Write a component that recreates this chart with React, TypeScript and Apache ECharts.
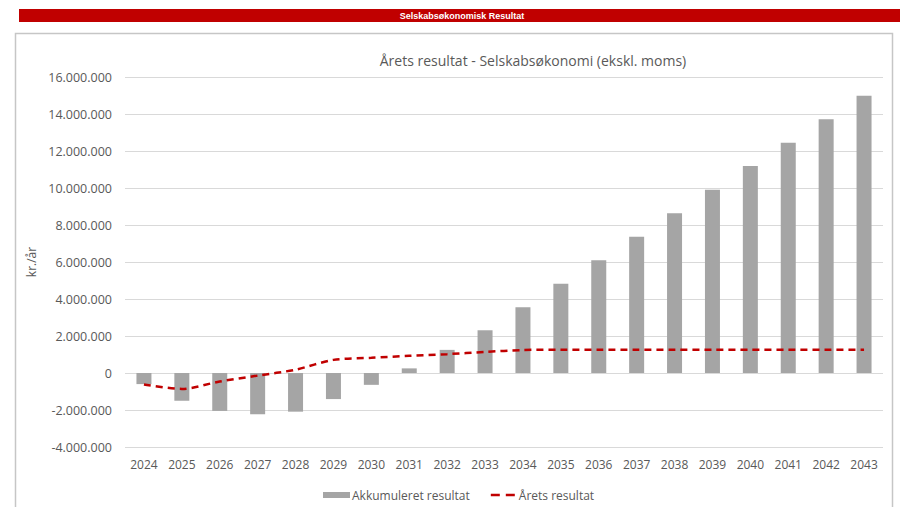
import React, { useEffect, useRef } from "react";
import * as echarts from "echarts";

const years: string[] = [
  "2024", "2025", "2026", "2027", "2028", "2029", "2030", "2031", "2032", "2033",
  "2034", "2035", "2036", "2037", "2038", "2039", "2040", "2041", "2042", "2043",
];

// Akkumuleret resultat (kr.)
const accumulated: number[] = [
  -600000, -1500000, -2050000, -2230000, -2090000, -1410000, -640000, 250000, 1250000, 2310000,
  3560000, 4820000, 6100000, 7360000, 8630000, 9910000, 11190000, 12450000, 13710000, 14980000,
];

// Årets resultat (kr.)
const annual: number[] = [
  -620000, -860000, -460000, -140000, 180000, 710000, 820000, 930000, 1020000, 1140000,
  1240000, 1260000, 1260000, 1260000, 1260000, 1260000, 1260000, 1260000, 1260000, 1260000,
];

const headerText = "Selskabsøkonomisk Resultat";
const chartTitle = "Årets resultat - Selskabsøkonomi (ekskl. moms)";
const yAxisName = "kr./år";
const seriesNames = ["Akkumuleret resultat", "Årets resultat"];

function fmt(v: number): string {
  const neg = v < 0;
  const s = Math.abs(Math.round(v)).toString();
  const parts: string[] = [];
  for (let i = s.length; i > 0; i -= 3) parts.unshift(s.slice(Math.max(0, i - 3), i));
  return (neg ? "-" : "") + parts.join(".");
}

const FONT = "'Open Sans', 'Noto Sans', sans-serif";
const TXT = "#595959";
const DASH_ICON =
  "path://M0,0L0.01,0L0,0.01Z M0,6L0.01,6L0,5.99Z M27,0L26.99,0L27,0.01Z M1,1.75H10V4.25H1Z M16,1.75H25V4.25H16Z";

export default function App() {
  const ref = useRef<HTMLDivElement>(null);
  useEffect(() => {
    if (!ref.current) return;
    const chart = echarts.init(ref.current, null, { renderer: "svg" });
    chart.setOption({
      animation: false,
      backgroundColor: "#ffffff",
      textStyle: { fontFamily: FONT },
      title: {
        text: chartTitle,
        left: 528,
        top: 48,
        textAlign: "center",
        textStyle: { fontFamily: FONT, fontSize: 14, fontWeight: "normal", color: TXT },
      },
      graphic: [
        {
          type: "rect",
          shape: { x: 19, y: 9, width: 881, height: 13 },
          style: { fill: "#C00000" },
          z: 10,
        },
        {
          type: "text",
          x: 462,
          y: 15.5,
          style: {
            text: headerText,
            fill: "#ffffff",
            font: "bold 9px 'Liberation Sans Narrow', 'Liberation Sans', sans-serif",
            textAlign: "center",
            textVerticalAlign: "middle",
          },
          z: 11,
        },
        {
          type: "rect",
          shape: { x: 15.5, y: 33.5, width: 877, height: 490 },
          style: { fill: "none", stroke: "#c6c6c6", lineWidth: 1.5 },
          z: 10,
        },
      ],
      legend: {
        left: 318,
        top: 484,
        itemWidth: 27,
        itemHeight: 6,
        itemGap: 20,
        symbolKeepAspect: false,
        textStyle: { fontFamily: FONT, fontSize: 12, color: TXT, padding: [0, 0, 0, -3] },
        data: [
          { name: seriesNames[0], icon: "rect" },
          { name: seriesNames[1], icon: DASH_ICON },
        ],
      },
      grid: { left: 125, right: 17, top: 77, bottom: 60 },
      xAxis: {
        type: "category",
        data: years,
        axisLine: { show: false, onZero: false },
        axisTick: { show: false },
        axisLabel: { color: TXT, fontSize: 12, fontFamily: FONT, margin: 11 },
      },
      yAxis: {
        type: "value",
        min: -4000000,
        max: 16000000,
        interval: 2000000,
        name: yAxisName,
        nameLocation: "middle",
        nameRotate: 90,
        nameGap: 87,
        nameTextStyle: { color: TXT, fontSize: 12, fontFamily: FONT },
        axisLine: { show: false },
        axisTick: { show: false },
        splitLine: { lineStyle: { color: "#d9d9d9", width: 1 } },
        axisLabel: {
          color: TXT,
          fontSize: 12.5,
          fontFamily: FONT,
          margin: 13,
          formatter: (v: number) => fmt(v),
        },
      },
      series: [
        {
          name: seriesNames[0],
          type: "bar",
          data: accumulated,
          barWidth: 15,
          itemStyle: { color: "#a5a5a5" },
        },
        {
          name: seriesNames[1],
          type: "line",
          data: annual,
          smooth: 0.3,
          symbol: "none",
          lineStyle: { color: "#C00000", width: 2.5, type: [7, 5] },
          itemStyle: { color: "#C00000" },
        },
      ],
    });
    return () => chart.dispose();
  }, []);
  return (
    <div
      ref={ref}
      style={{ position: "fixed", left: 0, top: 0, width: 900, height: 507, background: "#fff" }}
    />
  );
}
